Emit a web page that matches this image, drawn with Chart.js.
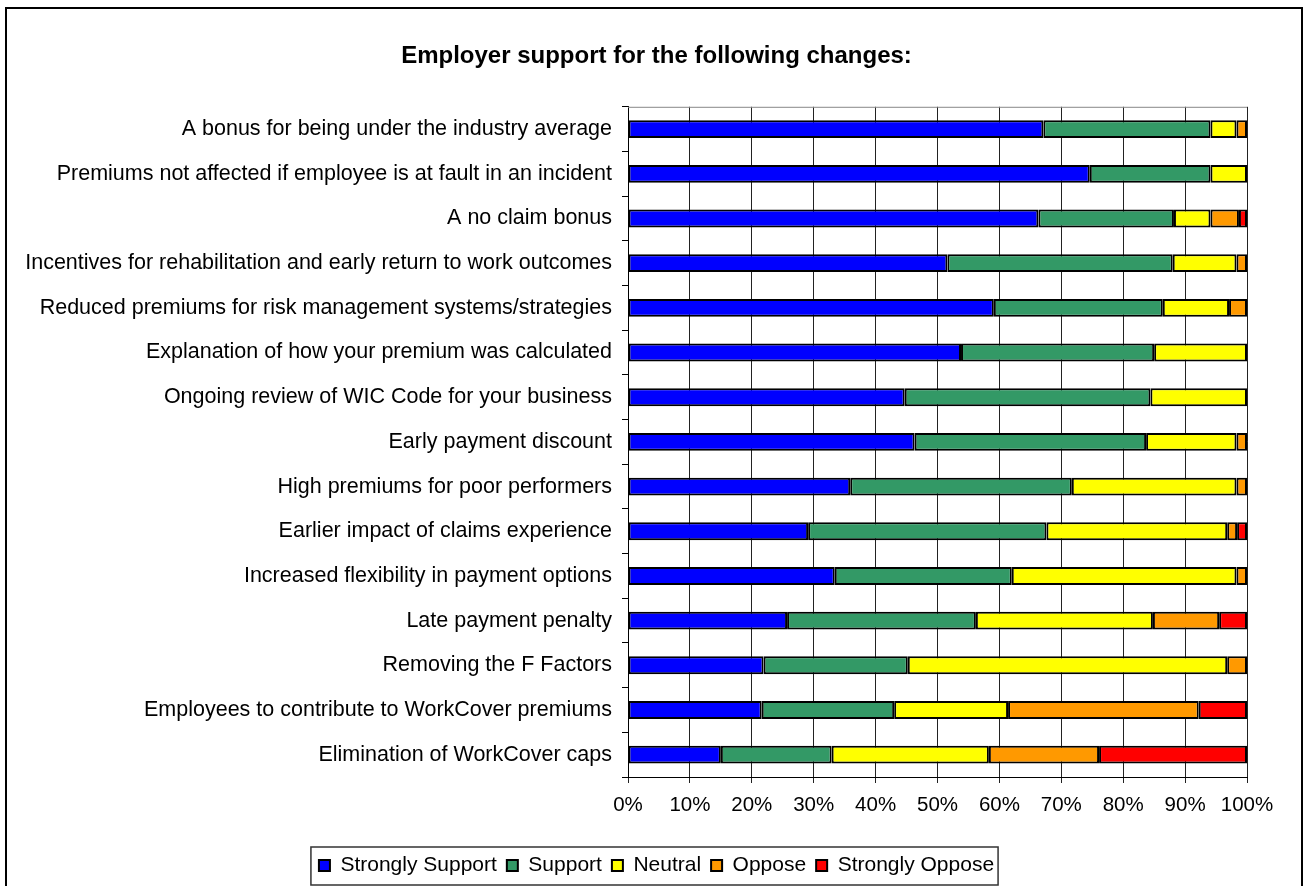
<!DOCTYPE html>
<html lang="en">
<head>
  <meta charset="UTF-8" />
  <title>Employer support for the following changes</title>
  <style>
    body {
      margin: 0;
      background: white;
    }
    canvas {
      display: block;
    }
  </style>
</head>
<body>
  <canvas id="chart" width="1305" height="886"></canvas>

  <script src="https://cdn.jsdelivr.net/npm/chart.js"></script>
  <script>
    const categories = [
      'A bonus for being under the industry average',
      'Premiums not affected if employee is at fault in an incident',
      'A no claim bonus',
      'Incentives for rehabilitation and early return to work outcomes',
      'Reduced premiums for risk management systems/strategies',
      'Explanation of how your premium was calculated',
      'Ongoing review of WIC Code for your business',
      'Early payment discount',
      'High premiums for poor performers',
      'Earlier impact of claims experience',
      'Increased flexibility in payment options',
      'Late payment penalty',
      'Removing the F Factors',
      'Employees to contribute to WorkCover premiums',
      'Elimination of WorkCover caps'
    ];

    // percentages, one per category, top to bottom
    const stronglySupport = [67.1, 74.6, 66.3, 51.6, 59.1, 53.8, 44.7, 46.3, 35.9, 29.1, 33.4, 25.7, 21.9, 21.6, 15.0];
    const support         = [27.0, 19.5, 21.9, 36.4, 27.3, 31.2, 39.7, 37.4, 35.8, 38.5, 28.6, 30.5, 23.3, 21.4, 17.9];
    const neutral         = [4.2, 5.9, 5.9, 10.3, 10.7, 15.0, 15.6, 14.6, 26.6, 29.2, 36.3, 28.6, 51.6, 18.4, 25.4];
    const oppose          = [1.7, 0, 4.6, 1.7, 2.9, 0, 0, 1.7, 1.7, 1.6, 1.7, 10.7, 3.2, 30.8, 17.8];
    const stronglyOppose  = [0, 0, 1.3, 0, 0, 0, 0, 0, 0, 1.6, 0, 4.5, 0, 7.8, 23.9];

    const xTicks = [0, 10, 20, 30, 40, 50, 60, 70, 80, 90, 100];

    const seriesNames = ['Strongly Support', 'Support', 'Neutral', 'Oppose', 'Strongly Oppose'];
    const seriesData = [stronglySupport, support, neutral, oppose, stronglyOppose];
    const seriesColors = ['#0000ff', '#339966', '#ffff00', '#ff9900', '#ff0000'];

    const fontFamily = 'Arial, "Liberation Sans", sans-serif';

    // outer frame, plot frame and a box round the legend
    const framePlugin = {
      id: 'frames',
      beforeDraw(chart) {
        const ctx = chart.ctx;
        ctx.save();
        ctx.fillStyle = 'white';
        ctx.fillRect(0, 0, chart.width, chart.height);
        ctx.strokeStyle = '#000';
        ctx.lineWidth = 2;
        ctx.strokeRect(6, 8, chart.width - 9, chart.height + 20);
        ctx.restore();
      },
      afterDraw(chart) {
        const ctx = chart.ctx;
        const a = chart.chartArea;
        ctx.save();
        ctx.strokeStyle = '#888';
        ctx.lineWidth = 1;
        ctx.beginPath();
        ctx.moveTo(a.left, a.top + 0.5);
        ctx.lineTo(a.right, a.top + 0.5);
        ctx.stroke();

        const boxes = chart.legend.legendHitBoxes;
        if (boxes && boxes.length) {
          let l = Infinity, r = -Infinity, t = Infinity, b = -Infinity;
          boxes.forEach(h => {
            l = Math.min(l, h.left);
            r = Math.max(r, h.left + h.width);
            t = Math.min(t, h.top);
            b = Math.max(b, h.top + h.height);
          });
          ctx.strokeStyle = '#333';
          ctx.lineWidth = 1.5;
          ctx.strokeRect(l - 8, t - 8, r - l + 12, b - t + 17);
        }
        ctx.restore();
      }
    };

    new Chart(document.getElementById('chart').getContext('2d'), {
      type: 'bar',
      data: {
        labels: categories,
        datasets: seriesNames.map((name, i) => ({
          label: name,
          data: seriesData[i],
          backgroundColor: seriesColors[i],
          borderColor: '#000',
          borderWidth: 2,
          borderSkipped: false,
          barPercentage: 0.4,
          categoryPercentage: 1
        }))
      },
      options: {
        indexAxis: 'y',
        responsive: false,
        animation: false,
        layout: { padding: { left: 8, right: 0, top: 0, bottom: 0 } },
        plugins: {
          title: {
            display: true,
            text: 'Employer support for the following changes:',
            color: '#000',
            font: { family: fontFamily, size: 24, weight: 'bold' },
            padding: { top: 42, bottom: 36 }
          },
          legend: {
            position: 'bottom',
            labels: {
              color: '#000',
              font: { family: fontFamily, size: 21 },
              boxWidth: 11,
              boxHeight: 11,
              padding: 10
            }
          },
          tooltip: { enabled: false }
        },
        scales: {
          x: {
            stacked: true,
            min: 0,
            max: 100,
            afterBuildTicks: s => { s.ticks = xTicks.map(v => ({ value: v })); },
            afterFit: s => { s.height = 68; s.paddingRight = 58; },
            ticks: {
              color: '#000',
              font: { family: fontFamily, size: 20.5 },
              padding: 10,
              maxRotation: 0,
              callback: v => v + '%'
            },
            grid: { color: '#222', lineWidth: 1, tickLength: 6 },
            border: { color: '#000', width: 1 }
          },
          y: {
            stacked: true,
            afterFit: s => { s.width = 620; },
            ticks: {
              color: '#000',
              font: { family: fontFamily, size: 21.5 },
              padding: 10,
              autoSkip: false
            },
            grid: { drawOnChartArea: false, color: '#000', tickLength: 6, offset: true },
            border: { color: '#000', width: 1 }
          }
        }
      },
      plugins: [framePlugin]
    });
  </script>
</body>
</html>
